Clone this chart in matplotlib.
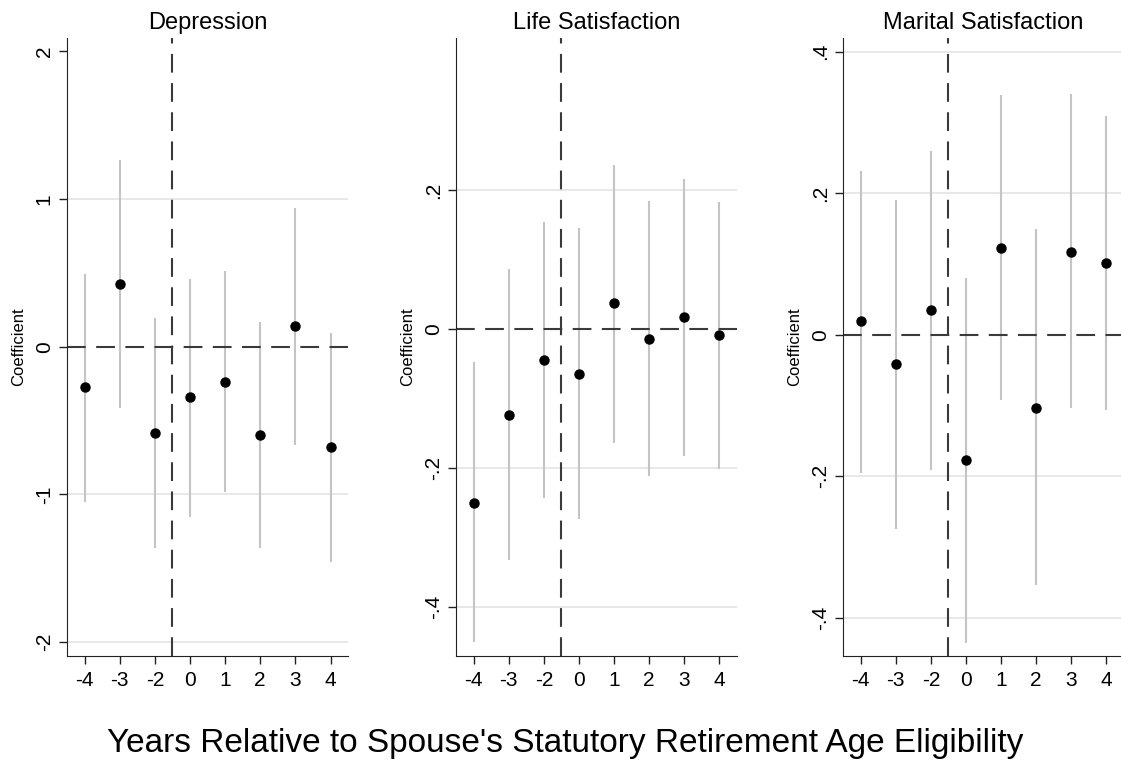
import numpy as np
import matplotlib
matplotlib.use("Agg")
import matplotlib.pyplot as plt

plt.rcParams['font.family'] = ['Liberation Sans', 'DejaVu Sans']

# event-time categories (year -1 is the omitted reference)
years = ["-4", "-3", "-2", "0", "1", "2", "3", "4"]

titles = ["Depression", "Life Satisfaction", "Marital Satisfaction"]

dep_coef = [-0.276, 0.424, -0.582, -0.342, -0.236, -0.600, 0.139, -0.682]
dep_hi = [0.49, 1.264, 0.197, 0.461, 0.515, 0.164, 0.942, 0.094]
dep_lo = [-1.05, -0.412, -1.364, -1.152, -0.985, -1.364, -0.667, -1.455]

life_coef = [-0.250, -0.124, -0.044, -0.064, 0.037, -0.014, 0.017, -0.008]
life_hi = [-0.048, 0.086, 0.154, 0.145, 0.237, 0.185, 0.216, 0.183]
life_lo = [-0.451, -0.332, -0.243, -0.274, -0.164, -0.212, -0.183, -0.201]

mar_coef = [0.019, -0.042, 0.035, -0.177, 0.123, -0.103, 0.117, 0.102]
mar_hi = [0.232, 0.191, 0.259, 0.080, 0.339, 0.149, 0.340, 0.309]
mar_lo = [-0.195, -0.274, -0.191, -0.435, -0.092, -0.353, -0.104, -0.106]

yticks = [[-2, -1, 0, 1, 2], [-0.4, -0.2, 0, 0.2], [-0.4, -0.2, 0, 0.2, 0.4]]
ytick_labels = [["-2", "-1", "0", "1", "2"], ["-.4", "-.2", "0", ".2"],
                ["-.4", "-.2", "0", ".2", ".4"]]
grid_at = [[-2, -1, 1], [-0.4, -0.2, 0.2], [-0.4, -0.2, 0.2, 0.4]]
ylims = [(-2.094, 2.088), (-0.471, 0.419), (-0.454, 0.419)]

coefs = [dep_coef, life_coef, mar_coef]
his = [dep_hi, life_hi, mar_hi]
los = [dep_lo, life_lo, mar_lo]

fig = plt.figure(figsize=(11.21, 7.62), dpi=100)
lefts = [0.0598, 0.4068, 0.752]
x = np.arange(len(years))

for k in range(3):
    ax = fig.add_axes([lefts[k], 0.1391, 0.2507, 0.8107])
    for g in grid_at[k]:
        ax.axhline(g, color="#e6e6e6", lw=1.3, zorder=0)
    ax.vlines(x, los[k], his[k], color="#c4c4c4", lw=1.5, zorder=1)
    ax.axhline(0, color="#3a3a3a", lw=1.5, dashes=(9, 5), zorder=2)
    ax.axvline(2.5, color="#3a3a3a", lw=1.5, dashes=(9, 5), zorder=2)
    ax.plot(x, coefs[k], "o", color="black", ms=6.5, zorder=3)

    ax.set_xlim(-0.5, 7.5)
    ax.set_ylim(*ylims[k])
    ax.set_xticks(x)
    ax.set_xticklabels(years, fontsize=15)
    ax.set_yticks(yticks[k])
    ax.set_yticklabels(ytick_labels[k], fontsize=15, rotation=90, va="center")
    ax.spines["top"].set_visible(False)
    ax.spines["right"].set_visible(False)
    ax.spines["left"].set_color("#222222")
    ax.spines["bottom"].set_color("#222222")
    ax.tick_params(length=6, width=1, color="#222222")
    ax.tick_params(axis="x", pad=5)
    ax.set_ylabel("Coefficient", fontsize=12, labelpad=6)
    ax.set_title(titles[k], fontsize=17, pad=7)

fig.text(0.504, 0.013, "Years Relative to Spouse's Statutory Retirement Age Eligibility",
         ha="center", va="baseline", fontsize=24)

fig.savefig("out.png", dpi=100)
